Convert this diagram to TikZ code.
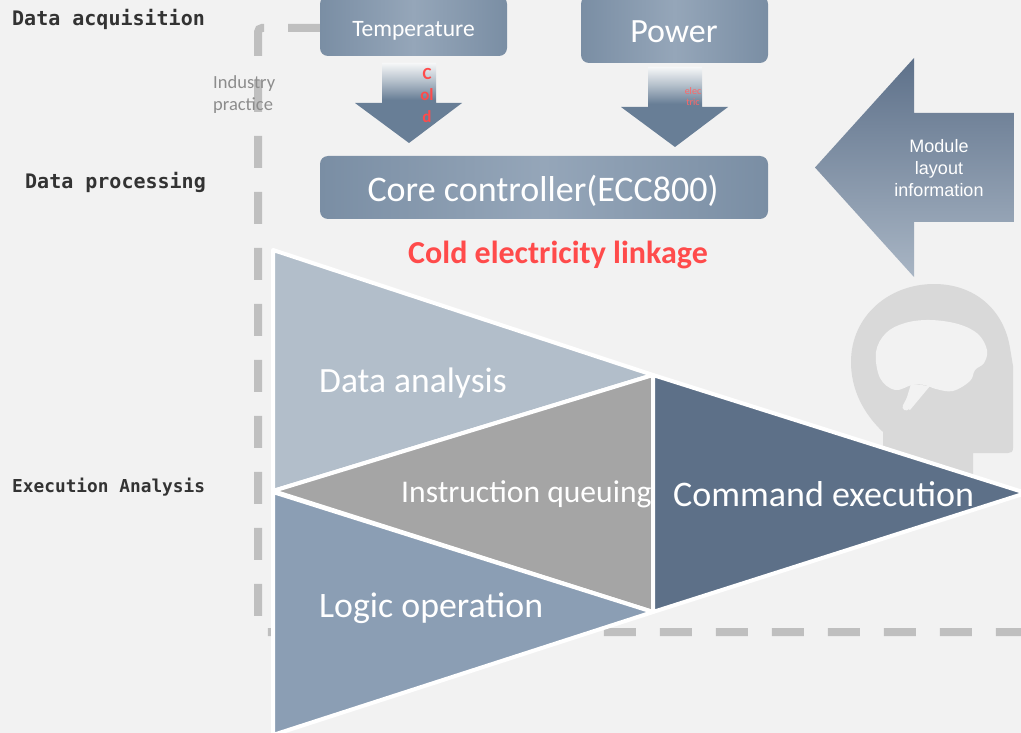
\documentclass[tikz,border=0pt]{standalone}
\usepackage{fontspec}
\setmainfont{Carlito}
\newfontfamily\arialf{Liberation Sans}
\newfontfamily\monof{DejaVu Sans Mono}
\definecolor{bg}{HTML}{F2F2F2}
\definecolor{dashgray}{HTML}{BFBFBF}
\definecolor{boxedge}{HTML}{7A8EA4}
\definecolor{boxmid}{HTML}{95A6B9}
\definecolor{arrdk}{HTML}{687E96}
\definecolor{arrmid}{HTML}{B6C1CC}
\definecolor{arrlt}{HTML}{F6F7F8}
\definecolor{modtop}{HTML}{5E718A}
\definecolor{modbot}{HTML}{A8B5C4}
\definecolor{triA}{HTML}{B2BECA}
\definecolor{triB}{HTML}{A5A5A5}
\definecolor{triC}{HTML}{8B9EB4}
\definecolor{triD}{HTML}{5D7088}
\definecolor{headc}{HTML}{D9D9D9}
\definecolor{coldred}{HTML}{FF4B4B}
\definecolor{lbltxt}{HTML}{333333}
\definecolor{indg}{HTML}{8C8C8C}
\pgfdeclareverticalshading{downarr}{100bp}{color(0bp)=(arrdk); color(52bp)=(arrdk); color(64bp)=(arrmid); color(75bp)=(arrlt); color(100bp)=(arrlt)}
\begin{document}
\begin{tikzpicture}[x=1pt,y=-1pt,
 box/.style={rounded corners=8pt, left color=boxedge, right color=boxedge, middle color=boxmid, draw=none, inner sep=0pt},
 boxtxt/.style={text=white, anchor=base, inner sep=0pt},
 tri/.style={draw=white, line width=4pt, line join=round},
 tritxt/.style={text=white, anchor=base west, inner sep=0pt},
 lbl/.style={text=lbltxt, anchor=base west, inner sep=0pt},
 dashline/.style={draw=dashgray, line width=8pt, dash pattern=on 32pt off 24pt, rounded corners=4pt},
]
\useasboundingbox (0,0) rectangle (1021,733);
\fill[bg] (0,0) rectangle (1021,733);
\clip (0,0) rectangle (1021,733);

% dashed frame
\coordinate (d0) at (320,28);
\coordinate (d1) at (258,28);
\coordinate (d2) at (258,632);
\coordinate (d3) at (1030,632);
\draw[dashline] (d0) -- (d1) -- (d2) -- (d3);

% left labels
\node[lbl, font=\monof\bfseries\fontsize{20pt}{24pt}\selectfont] (lacq) at (12,26) {Data acquisition};
\node[lbl, font=\monof\bfseries\fontsize{20pt}{24pt}\selectfont] (lproc) at (25,189) {Data processing};
\node[lbl, font=\monof\bfseries\fontsize{17.8pt}{22pt}\selectfont] (lexec) at (12,492) {Execution Analysis};

% industry practice
\node[text=indg, anchor=west, align=left, inner sep=0pt, font=\fontsize{18.5pt}{22pt}\selectfont] (ind) at (213,95) {Industry\\practice};

% boxes
\node[box, minimum width=187pt, minimum height=60pt] (temp) at (413.5,26) {};
\node[box, minimum width=187pt, minimum height=67pt] (pow) at (674.5,29.5) {};
\node[box, minimum width=448pt, minimum height=63pt] (core) at (544,187.5) {};
\node[boxtxt, font=\fontsize{23.5pt}{28pt}\selectfont] (tempt) at (413.5,37) {Temperature};
\node[boxtxt, font=\fontsize{34pt}{40pt}\selectfont] (powt) at (674,43) {Power};
\node[boxtxt, font=\fontsize{36pt}{42pt}\selectfont] (coret) at (543,202) {Core controller(ECC800)};

% down arrows
\shade[shading=downarr] (382,63) -- (436,63) -- (436,103) -- (462,103) -- (409,143) -- (355,103) -- (382,103) -- cycle;
\shade[shading=downarr] (648,67) -- (702,67) -- (702,107) -- (728,107) -- (675,147) -- (621,107) -- (648,107) -- cycle;
\node[text=coldred, align=center, inner sep=0pt, font=\bfseries\fontsize{17pt}{21.5pt}\selectfont] (cold) at (427,95) {C\\ol\\d};
\node[text=coldred!85!white, align=center, inner sep=0pt, font=\fontsize{10pt}{11pt}\selectfont] (elec) at (693,97) {elec\\tric};

% module arrow
\shade[top color=modtop, bottom color=modbot] (1014,113) -- (914,113) -- (914,58) -- (815,167.5) -- (914,277) -- (914,222) -- (1014,222) -- cycle;
\node[text=white, align=center, inner sep=0pt, font=\arialf\fontsize{18pt}{22pt}\selectfont] (mod) at (939,168) {Module\\layout\\information};

% red caption
\node[text=coldred, anchor=base, inner sep=0pt, font=\bfseries\fontsize{32pt}{38pt}\selectfont] (link) at (558,263) {Cold electricity linkage};

% head icon
\fill[headc] (883,490) -- (883,432) .. controls (862,412) and (851,388) .. (851,362)
  .. controls (851,316) and (889,284) .. (934,284)
  .. controls (975,284) and (1004,310) .. (1010,348)
  -- (1013,366) -- (1013,448) .. controls (1013,452) and (1011,453) .. (1008,453)
  -- (973,453) -- (973,490) -- cycle;
\fill[bg] plot[smooth cycle, tension=0.6] coordinates {(876,352) (886,333) (905,323) (930,320) (958,324) (978,334) (987,350) (984,363) (975,370) (970,381) (953,391) (936,389) (925,385) (912,385) (895,390) (880,378)};
\fill[bg] (911,384) -- (930,386) -- (910,410) -- (904,407) -- cycle;
\draw[bg, line width=7pt, line cap=round] (914,392) -- (906,407);

% triangles
\filldraw[tri, fill=triA] (273,250) -- (653,375) -- (273,491) -- cycle;
\filldraw[tri, fill=triB] (273,491) -- (653,375) -- (653,612) -- cycle;
\filldraw[tri, fill=triC] (273,492) -- (653,612) -- (273,735) -- cycle;
\filldraw[tri, fill=triD] (653,375) -- (1026,493) -- (653,612) -- cycle;

\node[tritxt, font=\fontsize{35.5pt}{40pt}\selectfont] (da) at (319,392) {Data analysis};
\node[tritxt, font=\fontsize{31.6pt}{36pt}\selectfont] (iq) at (401,502) {Instruction queuing};
\node[tritxt, font=\fontsize{36pt}{40pt}\selectfont] (ce) at (673,506) {Command execution};
\node[tritxt, font=\fontsize{35.8pt}{40pt}\selectfont] (lo) at (319,617) {Logic operation};
\end{tikzpicture}
\end{document}
